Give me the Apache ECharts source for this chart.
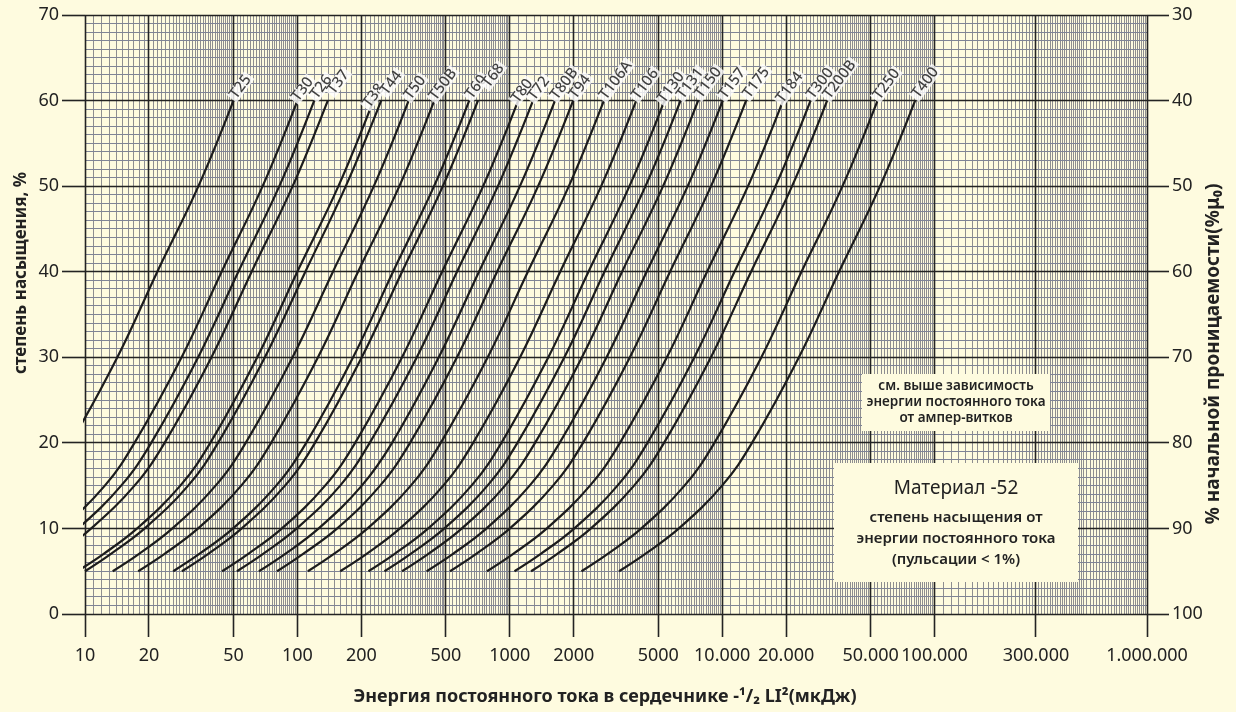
<!DOCTYPE html>
<html><head><meta charset="utf-8">
<script src="https://cdn.jsdelivr.net/npm/echarts@6/dist/echarts.min.js"></script>
<style>html,body{margin:0;padding:0;background:#fefbdf}#c{width:1236px;height:712px}</style>
</head><body><div id="c"></div><script>
// saturation levels (%) at which each curve's energy was read
const satLevels = [5, 7, 10, 15, 20, 30, 40, 50, 60];
// energies (µJ) of each curve at those levels
const eT25  = [2.02, 2.67, 3.87, 6.17, 8.54, 14.2, 21.9, 34.2, 50.0];
const eT30  = [4.05, 5.36, 7.75, 12.4, 17.1, 28.5, 44.0, 68.6, 100];
const eT26  = [4.85, 6.42, 9.28, 14.8, 20.5, 34.1, 52.7, 82.2, 120];
const eT37  = [5.61, 7.43, 10.7, 17.1, 23.7, 39.4, 60.9, 95.0, 139];
const eT38  = [9.20, 12.2, 17.6, 28.1, 38.9, 64.7, 99.9, 156, 228];
const eT44  = [10.0, 13.2, 19.1, 30.6, 42.3, 70.3, 109, 169, 248];
const eT50  = [13.5, 17.9, 25.8, 41.2, 57.1, 94.9, 147, 229, 334];
const eT50B = [17.8, 23.6, 34.1, 54.4, 75.2, 125, 193, 302, 441];
const eT60  = [26.0, 34.4, 49.8, 79.4, 110, 183, 282, 440, 644];
const eT68  = [28.6, 37.9, 54.7, 87.4, 121, 201, 311, 484, 708];
const eT80  = [44.2, 58.5, 84.6, 135, 187, 311, 480, 749, 1095];
const eT72  = [51.9, 68.7, 99.3, 159, 219, 365, 564, 879, 1286];
const eT80B = [65.9, 87.3, 126, 201, 279, 463, 716, 1116, 1632];
const eT94  = [80.2, 106, 154, 245, 339, 564, 871, 1359, 1987];
const eT106A= [112, 148, 214, 342, 473, 787, 1216, 1897, 2774];
const eT106 = [159, 211, 304, 486, 672, 1118, 1727, 2693, 3938];
const eT130 = [216, 286, 413, 660, 913, 1519, 2346, 3659, 5350];
const eT131 = [257, 340, 492, 785, 1086, 1807, 2791, 4354, 6366];
const eT150 = [311, 412, 595, 950, 1315, 2187, 3377, 5268, 7703];
const eT157 = [406, 538, 777, 1240, 1716, 2855, 4409, 6878, 10057];
const eT175 = [523, 692, 1001, 1598, 2211, 3677, 5680, 8860, 12955];
const eT184 = [781, 1034, 1495, 2386, 3301, 5491, 8482, 13230, 19345];
const eT300 = [1052, 1393, 2014, 3214, 4447, 7397, 11425, 17821, 26058];
const eT200B= [1259, 1667, 2410, 3846, 5322, 8852, 13673, 21327, 31185];
const eT250 = [2175, 2880, 4163, 6645, 9194, 15292, 23621, 36845, 53875];
const eT400 = [3268, 4327, 6255, 9984, 13814, 22977, 35490, 55360, 80948];

const curveNames = ['T25','T30','T26','T37','T38','T44','T50','T50B','T60','T68','T80','T72','T80B','T94',
  'T106A','T106','T130','T131','T150','T157','T175','T184','T300','T200B','T250','T400'];
const curveValues = [eT25,eT30,eT26,eT37,eT38,eT44,eT50,eT50B,eT60,eT68,eT80,eT72,eT80B,eT94,
  eT106A,eT106,eT130,eT131,eT150,eT157,eT175,eT184,eT300,eT200B,eT250,eT400];

// axis tick values
const xMajorTicks = [10, 20, 50, 100, 200, 500, 1000, 2000, 5000, 10000, 20000, 50000, 100000, 300000, 1000000];
const yLeftTicks = [0, 10, 20, 30, 40, 50, 60, 70];
const yRightTicks = [30, 40, 50, 60, 70, 80, 90, 100];

// layout only: horizontal nudges (px) of the curve tags, as placed in the original
const labelNudgeX = [0, -3, 0, 6, -11, 5, -1, -2, 0, 14, -5, -2, -1, 0, -1, -1, -5, 0, 1, 0, 1, -5, 0, 0, -1, 1];

const FONT = '"Noto Sans", "DejaVu Sans", sans-serif';
const BG = '#fefbdf';
const X_MIN = 10, X_MAX = 1000000, Y_MIN = 0, Y_MAX = 70;

// log-paper grid values
const minorX = [];
for (let b = 10; b < X_MAX; b *= 10) {
  for (let k = 10; k < 50; k++) minorX.push(b * k / 10);
  for (let k = 50; k < 100; k += 2) minorX.push(b * k / 10);
}
const minorXFiltered = minorX.filter(v => !xMajorTicks.some(m => Math.abs(m - v) < 1e-6 * m));
const minorY = [];
for (let v = 1; v < Y_MAX; v++) if (v % 10) minorY.push(v);

// straight grid / tick segments; optional pixel offsets (dx, dy) for outward ticks
function gridLines(lines, color, width, z, off) {
  return {
    type: 'custom', silent: true, animation: false, z: z, clip: false,
    data: lines, encode: {x: [0, 2], y: [1, 3]},
    renderItem: function (params, api) {
      const a = api.coord([api.value(0), api.value(1)]);
      const b = api.coord([api.value(2), api.value(3)]);
      if (off) { b[0] = a[0] + off[0]; b[1] = a[1] + off[1]; }
      const vertical = Math.abs(a[0] - b[0]) < 0.01;
      const c = v => Math.round(v - 0.5) + 0.5;
      if (vertical) { a[0] = b[0] = c(a[0]); } else { a[1] = b[1] = c(a[1]); }
      return {type: 'line', shape: {x1: a[0], y1: a[1], x2: b[0], y2: b[1]},
        style: {stroke: color, lineWidth: width}};
    }
  };
}

const fmtEnergy = v => {
  const s = String(Math.round(v));
  return v >= 10000 ? s.replace(/\B(?=(\d{3})+(?!\d))/g, '.') : s;
};

const series = [
  gridLines(minorXFiltered.map(v => [v, Y_MIN, v, Y_MAX]), '#8e8e90', 1, 1),
  gridLines(minorY.map(v => [X_MIN, v, X_MAX, v]), '#7f8496', 1, 1),
  gridLines(xMajorTicks.map(v => [v, Y_MIN, v, Y_MAX]), '#232323', 1.6, 2),
  gridLines(yLeftTicks.map(v => [X_MIN, v, X_MAX, v]), '#232323', 1.6, 2),
  // outward ticks
  gridLines(xMajorTicks.map(v => [v, Y_MIN, v, Y_MIN]), '#232323', 1.6, 2, [0, 23]),
  gridLines(yLeftTicks.map(v => [X_MIN, v, X_MIN, v]), '#232323', 1.6, 2, [-23, 0]),
  gridLines(yLeftTicks.map(v => [X_MAX, v, X_MAX, v]), '#232323', 1.6, 2, [22, 0])
];
curveNames.forEach((n, i) => {
  series.push({
    type: 'line', name: n, z: 5, smooth: 0.4, symbol: 'none', silent: true,
    animation: false, clip: true,
    lineStyle: {color: '#1c1c1c', width: 2.2},
    data: curveValues[i].map((e, j) => [e, satLevels[j]])
  });
});
series.push({
  type: 'scatter', z: 8, silent: true, animation: false, symbolSize: 1,
  itemStyle: {color: 'rgba(0,0,0,0)'},
  data: curveNames.map((n, i) => ({name: n,
    value: [curveValues[i][curveValues[i].length - 1], satLevels[satLevels.length - 1]],
    label: {offset: [labelNudgeX[i], -3]}})),
  label: {show: true, formatter: '{b}', position: 'right', distance: 0, rotate: 53,
    fontFamily: FONT, fontSize: 15, fontWeight: 500, lineHeight: 13, color: '#111', backgroundColor: '#ffffff', padding: [0, 2, 0, 2],
    align: 'left', verticalAlign: 'middle'}
});

const chart = echarts.init(document.getElementById('c'), null, {renderer: 'canvas'});
chart.setOption({
  backgroundColor: BG,
  animation: false,
  grid: {left: 85, right: 89, top: 15, bottom: 98, containLabel: false},
  xAxis: {
    type: 'log', logBase: 10, min: X_MIN, max: X_MAX,
    axisLine: {show: false}, splitLine: {show: false}, minorTick: {show: false},
    axisTick: {show: false},
    axisLabel: {customValues: xMajorTicks, formatter: fmtEnergy, fontFamily: FONT, fontSize: 18, color: '#222', margin: 33}
  },
  yAxis: [{
    type: 'value', min: Y_MIN, max: Y_MAX, interval: 10, position: 'left',
    axisLine: {show: false}, splitLine: {show: false}, axisTick: {show: false},
    axisLabel: {fontFamily: FONT, fontSize: 18, color: '#222', margin: 26}
  }, {
    type: 'value', min: 30, max: 100, interval: 10, inverse: true, position: 'right',
    axisLine: {show: false}, splitLine: {show: false}, axisTick: {show: false},
    axisLabel: {fontFamily: FONT, fontSize: 18, color: '#222', margin: 25}
  }],
  graphic: [
    {type: 'rect', z: 100, shape: {x: 862, y: 374, width: 188, height: 57}, style: {fill: BG}},
    {type: 'text', z: 101, x: 956, y: 402, style: {text: 'см. выше зависимость\nэнергии постоянного тока\nот ампер-витков',
      align: 'center', verticalAlign: 'middle', fontFamily: FONT, fontSize: 13.5, fontWeight: 600, lineHeight: 16, fill: '#222'}},
    {type: 'rect', z: 100, shape: {x: 834, y: 463, width: 244, height: 119}, style: {fill: BG}},
    {type: 'text', z: 101, x: 956, y: 489, style: {text: 'Материал -52', align: 'center', verticalAlign: 'middle',
      fontFamily: FONT, fontSize: 19, fill: '#222'}},
    {type: 'text', z: 101, x: 956, y: 539, style: {text: 'степень насыщения от\nэнергии постоянного тока\n(пульсации < 1%)',
      align: 'center', verticalAlign: 'middle', fontFamily: FONT, fontSize: 15, fontWeight: 600, lineHeight: 21, fill: '#222'}},
    {type: 'text', z: 101, x: 21, y: 273, rotation: Math.PI / 2, style: {text: 'степень насыщения, %',
      align: 'center', verticalAlign: 'middle', fontFamily: FONT, fontSize: 17, fontWeight: 'bold', fill: '#222'}},
    {type: 'text', z: 101, x: 1214, y: 354, rotation: Math.PI / 2, style: {text: '% начальной проницаемости(%μ₀)',
      align: 'center', verticalAlign: 'middle', fontFamily: FONT, fontSize: 19, fontWeight: 'bold', fill: '#222'}},
    {type: 'text', z: 101, x: 605, y: 697, style: {text: 'Энергия постоянного тока в сердечнике -¹/₂ LI²(мкДж)',
      align: 'center', verticalAlign: 'middle', fontFamily: FONT, fontSize: 18, fontWeight: 'bold', fill: '#222'}}
  ],
  series: series
});
</script></body></html>
